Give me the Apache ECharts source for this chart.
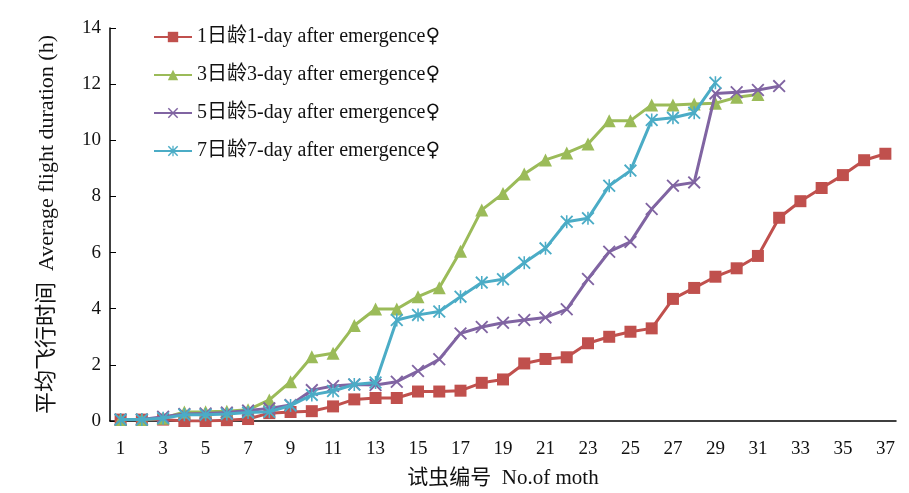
<!DOCTYPE html>
<html>
<head>
<meta charset="utf-8">
<script src="https://cdn.jsdelivr.net/npm/echarts@6/dist/echarts.min.js"></script>
<style>html,body{margin:0;padding:0;background:#fff;}#c{width:909px;height:493px;}</style>
</head>
<body>
<div id="c"></div>
<script>
var categories = [];
for (var i = 1; i <= 37; i++) categories.push(String(i));

var seriesNames = [
  '1日龄1-day after emergence♀',
  '3日龄3-day after emergence♀',
  '5日龄5-day after emergence♀',
  '7日龄7-day after emergence♀'
];

var day1 = [0.05,0.05,0.05,0.0,0.0,0.03,0.07,0.28,0.32,0.35,0.52,0.77,0.82,0.82,1.05,1.05,1.08,1.36,1.48,2.05,2.21,2.27,2.77,3.0,3.18,3.3,4.35,4.74,5.14,5.44,5.88,7.24,7.83,8.3,8.76,9.29,9.52];
var day3 = [0.05,0.05,0.1,0.32,0.33,0.35,0.4,0.75,1.4,2.29,2.41,3.4,3.99,3.99,4.43,4.75,6.05,7.52,8.1,8.8,9.3,9.55,9.87,10.7,10.7,11.26,11.26,11.29,11.32,11.53,11.63];
var day5 = [0.05,0.05,0.15,0.25,0.27,0.3,0.37,0.45,0.57,1.1,1.25,1.3,1.28,1.4,1.78,2.2,3.12,3.35,3.5,3.6,3.69,3.98,5.06,6.03,6.38,7.55,8.38,8.5,11.67,11.71,11.79,11.93];
var day7 = [0.05,0.05,0.1,0.22,0.22,0.25,0.3,0.33,0.55,0.93,1.07,1.3,1.37,3.6,3.78,3.9,4.43,4.93,5.05,5.64,6.15,7.1,7.22,8.38,8.92,10.72,10.8,10.98,12.05];

var colors = ['#C0504D', '#9BBB59', '#8064A2', '#4BACC6'];
var crossPath = 'path://M0,1 L1,0 L10,9 L9,10 Z M9,0 L10,1 L1,10 L0,9 Z';
var starPath = 'path://M0,1 L1,0 L10,9 L9,10 Z M9,0 L10,1 L1,10 L0,9 Z M4.4,0 L5.6,0 L5.6,10 L4.4,10 Z';
var symbols = ['rect', 'triangle', crossPath, starPath];
var sizes = [12, 13, 13, 13];
var data = [day1, day3, day5, day7];

var serif = '"Liberation Serif", "Times New Roman", "Noto Sans CJK SC", serif';

var series = data.map(function (d, k) {
  return {
    name: seriesNames[k],
    type: 'line',
    data: d,
    symbol: symbols[k],
    symbolSize: sizes[k],
    showAllSymbol: true,
    lineStyle: { color: colors[k], width: 3 },
    itemStyle: { color: colors[k], borderWidth: 0 },
    z: 2 + k
  };
});

var chart = echarts.init(document.getElementById('c'), null, { renderer: 'canvas' });
chart.setOption({
  animation: false,
  backgroundColor: '#ffffff',
  color: colors,
  grid: { left: 110, right: 13, top: 28, bottom: 72, containLabel: false, outerBoundsMode: 'none' },
  legend: {
    orient: 'vertical',
    left: 148,
    top: 22,
    itemWidth: 38,
    itemHeight: 13,
    itemGap: 18,
    data: seriesNames,
    formatter: function (n) { return n.replace('♀', '{f|♀}'); },
    textStyle: {
      fontFamily: serif, fontSize: 20, color: '#111', lineHeight: 20,
      rich: { f: { fontFamily: '"DejaVu Serif", "DejaVu Sans"', fontSize: 20, color: '#111', lineHeight: 20 } }
    }
  },
  xAxis: {
    type: 'category',
    data: categories,
    boundaryGap: true,
    name: '试虫编号  No.of moth',
    nameLocation: 'middle',
    nameGap: 47,
    nameTextStyle: { fontFamily: serif, fontSize: 21, color: '#111' },
    axisLine: { lineStyle: { color: '#000', width: 1.5 } },
    axisTick: { inside: true, alignWithLabel: true, interval: 0, length: 6, lineStyle: { color: '#000' } },
    axisLabel: { interval: 1, fontFamily: serif, fontSize: 19, color: '#111', margin: 19 },
    splitLine: { show: false }
  },
  yAxis: {
    type: 'value',
    min: 0,
    max: 14,
    interval: 2,
    name: '平均飞行时间  Average flight duration (h)',
    nameLocation: 'middle',
    nameGap: 52,
    nameTextStyle: { fontFamily: serif, fontSize: 22, color: '#111' },
    axisLine: { show: true, lineStyle: { color: '#000', width: 1.5 } },
    axisTick: { show: true, inside: true, length: 6, lineStyle: { color: '#000' } },
    axisLabel: { fontFamily: serif, fontSize: 19, color: '#111', margin: 9 },
    splitLine: { show: false }
  },
  series: series
});
</script>
</body>
</html>
